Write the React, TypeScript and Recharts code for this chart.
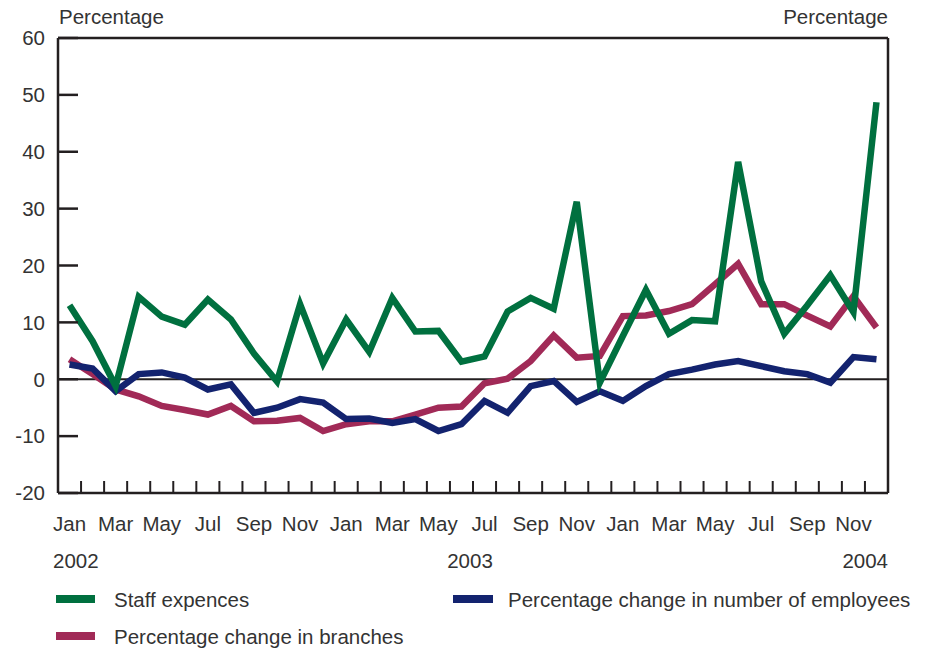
import { LineChart, Line, XAxis, YAxis, ReferenceLine } from "recharts";

const MONTHS = ["Jan", "Feb", "Mar", "Apr", "May", "Jun", "Jul", "Aug", "Sep", "Oct", "Nov", "Dec"];
const YEARS = ["2002", "2003", "2004"];
const PERIODS = YEARS.flatMap((y) => MONTHS.map((m) => `${m} ${y}`));

const STAFF = [
  13, 6.7, -1.2, 14.5, 11, 9.6, 14, 10.5, 4.5, -0.4, 13.2, 2.8,
  10.5, 4.8, 14.3, 8.4, 8.5, 3.1, 4, 11.9, 14.3, 12.4, 31.2, -0.6,
  7.6, 15.7, 8, 10.4, 10.2, 38.2, 17.2, 8, 13, 18.3, 11.8, 48.7,
];
const BRANCHES = [
  3.5, 0.9, -1.8, -3, -4.7, -5.4, -6.2, -4.7, -7.4, -7.3, -6.8, -9.1,
  -7.9, -7.4, -7.4, -6.2, -5, -4.8, -0.7, 0.1, 3.2, 7.7, 3.8, 4.1,
  11.1, 11.2, 12, 13.2, 16.7, 20.3, 13.2, 13.2, 11.2, 9.3, 14.6, 9.1,
];
const EMPLOYEES = [
  2.6, 1.9, -2.1, 0.9, 1.2, 0.3, -1.8, -0.9, -5.9, -5, -3.5, -4.1,
  -7, -6.9, -7.7, -7, -9.1, -7.9, -3.8, -5.9, -1.2, -0.3, -4, -2.1,
  -3.8, -1.2, 0.9, 1.7, 2.6, 3.2, 2.3, 1.4, 0.9, -0.6, 3.9, 3.5,
];
const Y_TICKS = [-20, -10, 0, 10, 20, 30, 40, 50, 60];

const data = PERIODS.map((p, i) => ({
  period: p,
  staff: STAFF[i],
  branches: BRANCHES[i],
  employees: EMPLOYEES[i],
}));

const GREEN = "#00703f";
const RED = "#a12a57";
const NAVY = "#13236f";
const INK = "#231f20";
const FONT = "'Liberation Sans', Arial, sans-serif";
const FONT_SIZE = 20.5;

const X_GAP = 23; // axis line -> month label
const Y_GAP_L = 13;
const Y_GAP_R = 15;
const TICK_IN = 20;

// month label on every other month, small inward tick on every month boundary
function MonthTick(props: any) {
  const { x, y, payload, index } = props;
  const axisY = y - X_GAP;
  const left = payload.coordinate - (payload.offset ?? 0);
  return (
    <g>
      {index > 0 && (
        <line x1={left} x2={left} y1={axisY} y2={axisY - 12} stroke={INK} strokeWidth={2} />
      )}
      {index % 2 === 0 && (
        <text
          x={x}
          y={y}
          dy="0.71em"
          textAnchor="middle"
          fontFamily={FONT}
          fontSize={FONT_SIZE}
          fill="#333"
        >
          {String(payload.value).split(" ")[0]}
        </text>
      )}
    </g>
  );
}

function LeftTick(props: any) {
  const { x, y, payload } = props;
  return (
    <g>
      <line x1={x + Y_GAP_L} x2={x + Y_GAP_L + TICK_IN} y1={y} y2={y} stroke={INK} strokeWidth={2.5} />
      <text x={x} y={y} dy="0.355em" textAnchor="end" fontFamily={FONT} fontSize={FONT_SIZE} fill="#333">
        {payload.value}
      </text>
    </g>
  );
}

function RightTick(props: any) {
  const { x, y, payload } = props;
  return (
    <g>
      <line x1={x - Y_GAP_R} x2={x - Y_GAP_R - TICK_IN} y1={y} y2={y} stroke={INK} strokeWidth={2.5} />
      <text x={x} y={y} dy="0.355em" textAnchor="start" fontFamily={FONT} fontSize={FONT_SIZE} fill="#333">
        {payload.value}
      </text>
    </g>
  );
}

export default function App() {
  return (
    <div style={{ position: "absolute", left: 0, top: 0, width: 937, height: 651, background: "#fff" }}>
      <LineChart
        width={937}
        height={651}
        data={data}
        margin={{ top: 38, right: 0, bottom: 118, left: 0 }}
      >
        <XAxis
          xAxisId="m"
          dataKey="period"
          scale="band"
          interval={0}
          height={40}
          tickSize={0}
          tickMargin={X_GAP}
          axisLine={{ stroke: INK, strokeWidth: 2.5 }}
          tickLine={false}
          tick={<MonthTick />}
        />
        <YAxis
          yAxisId="l"
          domain={[-20, 60]}
          ticks={Y_TICKS}
          width={58}
          tickSize={0}
          tickMargin={Y_GAP_L}
          tick={<LeftTick />}
          axisLine={{ stroke: INK, strokeWidth: 2.5 }}
          tickLine={false}
        />
        <YAxis
          yAxisId="r"
          orientation="right"
          domain={[-20, 60]}
          ticks={Y_TICKS}
          width={49}
          tickSize={0}
          tickMargin={Y_GAP_R}
          tick={<RightTick />}
          axisLine={{ stroke: INK, strokeWidth: 2.5 }}
          tickLine={false}
        />
        <ReferenceLine xAxisId="m" yAxisId="l" y={60} stroke={INK} strokeWidth={2.5} />
        <ReferenceLine xAxisId="m" yAxisId="l" y={0} stroke={INK} strokeWidth={2} />
        <Line
          xAxisId="m"
          yAxisId="l"
          dataKey="branches"
          stroke={RED}
          strokeWidth={6.5}
          dot={false}
          isAnimationActive={false}
        />
        <Line
          xAxisId="m"
          yAxisId="l"
          dataKey="employees"
          stroke={NAVY}
          strokeWidth={6.5}
          dot={false}
          isAnimationActive={false}
        />
        <Line
          xAxisId="m"
          yAxisId="l"
          dataKey="staff"
          stroke={GREEN}
          strokeWidth={6.5}
          dot={false}
          isAnimationActive={false}
        />
      </LineChart>
      <svg
        width={937}
        height={651}
        style={{ position: "absolute", left: 0, top: 0, pointerEvents: "none" }}
        fontFamily={FONT}
        fontSize={FONT_SIZE}
        fill="#333"
      >
        <text x={59} y={24}>Percentage</text>
        <text x={888} y={24} textAnchor="end">Percentage</text>
        <text x={53} y={568}>{YEARS[0]}</text>
        <text x={470} y={568} textAnchor="middle">{YEARS[1]}</text>
        <text x={888} y={568} textAnchor="end">{YEARS[2]}</text>

        <line x1={56} x2={95} y1={599} y2={599} stroke={GREEN} strokeWidth={8} />
        <text x={114} y={607}>Staff expences</text>
        <line x1={56} x2={95} y1={636} y2={636} stroke={RED} strokeWidth={8} />
        <text x={114} y={644}>Percentage change in branches</text>
        <line x1={453} x2={493} y1={599} y2={599} stroke={NAVY} strokeWidth={8} />
        <text x={508} y={607}>Percentage change in number of employees</text>
      </svg>
    </div>
  );
}
